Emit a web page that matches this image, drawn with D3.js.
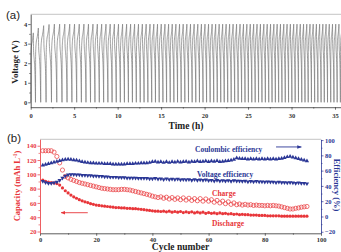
<!DOCTYPE html>
<html><head><meta charset="utf-8">
<script src="https://cdn.jsdelivr.net/npm/d3@7"></script>
<style>body{margin:0;background:#fff}svg{display:block}</style>
</head><body><svg id="chart"></svg>
<script>
// ---- panel (a): voltage profile ----
// length of every charge/discharge cycle in hours
var cycleHours = [
  0.55,0.60,0.62,0.62,0.61,0.60,0.58,0.56,0.55,0.54,
  0.53,0.52,0.51,0.50,0.50,0.49,0.48,0.48,0.47,0.47,
  0.46,0.46,0.45,0.45,0.44,0.44,0.44,0.43,0.43,0.43,
  0.42,0.42,0.42,0.42,0.42,0.42,0.42,0.42,0.42,0.42,
  0.41,0.41,0.41,0.41,0.41,0.40,0.40,0.40,0.40,0.40,
  0.40,0.40,0.39,0.39,0.39,0.39,0.39,0.39,0.39,0.39,
  0.38,0.38,0.38,0.38,0.38,0.38,0.38,0.38,0.38,0.38,
  0.37,0.37,0.37,0.37,0.37,0.37,0.37,0.37,0.37,0.37,
  0.37,0.37,0.37,0.37,0.37
];
var firstPeaks = [3.55, 3.8, 3.92, 3.98];   // later cycles reach the 4.0 V cut-off
var cutoffV = 4.0;
// one cycle: [fraction of cycle, voltage for a 4.0 V peak]
var cycleShape = [[0,0],[0.03,2.6],[0.12,3.15],[0.35,3.55],[0.5,3.85],[0.55,4.0],
                  [0.6,3.0],[0.75,2.4],[0.9,1.6],[0.97,0.6],[1,0]];
var timeTicks = [0,5,10,15,20,25,30,35];
var voltTicks = [0,1,2,3,4];

// ---- panel (b): cycling ----
var charge = [
  133,133,133,133,131,125,116,106,97,95,
  93,91.5,90,88.5,87.5,86.5,85.5,84.5,83.5,82.5,
  81.5,80.5,80,79.5,79,78.5,78.5,78.5,79,79,
  78.5,78,77,76,75,74,73,72,71,69.5,
  68.5,67.5,68.5,66.5,68,65.5,67.5,65,67,64.5,
  67,64,66.5,63.5,66,63,66,62.5,65.5,62.5,
  64.5,61,63.5,60,62.5,59,61.5,58,60,57.5,
  58.5,57,58,57,57.5,56.5,57,56.5,56.5,56,
  56.5,56,56.5,56,55.5,54.5,53.5,52.5,51.5,51.5,
  52.5,53,54,54.5,55
];
var discharge = [
  92,90,89,88.5,88,87,85,81,77,74,
  71,68.5,66.5,64.5,63,61.5,60.5,59,58,57,
  56.5,56,55.5,55,54.5,54,53.5,53.5,53,53,
  52.5,52.5,52,52,51.5,51,50.5,50,49.5,49,
  48.5,48.5,48,48.5,47.5,48.5,47,48,47,48,
  46.5,47.5,46.5,47.5,46,47,46,47,45.5,46.5,
  45.5,46,45,46,45,45.5,44.5,45,44,44.5,
  43.5,44,43.5,43.5,43,43,43,42.5,42.5,42.5,
  42,42,42,42,42,41.5,41.5,41.5,41.5,41.5,
  41.5,41.5,41.5,41.5,41.5
];
var coulombic = [
  67,68,69,70,71,72,73,74,74.5,75,
  74.5,74,73.5,72.5,71.5,71,70.5,70,70,69.5,
  69.5,69.5,69,69,69,68.5,68.5,68.5,68.5,68.5,
  69,69,69,69.5,69.5,70,70,70,70.5,71.5,
  72,71,71.5,70.5,71.5,70.5,71.5,71,72,71,
  71.5,72,71,72,71.5,72.5,71.5,72,72.5,71.5,
  72.5,72,73,71.5,72,72.5,73,73.5,74.5,76.5,
  76,75.5,75.5,75,75.5,75,75.5,75,75.5,75,
  75.5,75,75.5,75,75.5,76,77,78,78.5,77.5,
  76.5,75.5,74.5,73.5,72.5
];
var voltageEff = [
  46,44.5,43.5,43.5,44,45,47.5,50.5,53,54.5,
  55,55,54.5,54.5,54,54,53.5,53.5,53,53,
  52.5,52.5,52,52,51.5,51.5,51.5,51,51,51,
  50.5,50.5,50.5,50.5,50,50,50,50,49.5,49.5,
  50,49,49.5,48.5,49.5,48.5,49,48.5,49,48,
  48.5,48,48.5,47.5,48.5,47.5,48,47.5,48,47,
  47.5,46.5,47.5,46.5,47,46.5,47,46,47,46.5,
  46.5,46,46.5,45.5,46,45.5,46,45.5,45.5,45,
  45.5,45,45,44.5,45,44.5,44.5,44,44.5,44,
  43.5,44,43.5,43.5,43
];
var cycleTicks = [0,20,40,60,80,100];
var capTicks = [20,40,60,80,100,120,140];
var effTicks = [-20,0,20,40,60,80,100];

var W = 341, H = 252;
var serif = "'Liberation Serif','Times New Roman',serif";
var sans = "'Liberation Sans',Arial,sans-serif";
var red = "#e8363a", blue = "#2b3796", ink = "#333";
var intFmt = d3.format("d");

var svg = d3.select("#chart").attr("width", W).attr("height", H);

function styleAxis(g, color) {
  g.attr("font-family", serif).attr("font-size", 6.5).attr("font-weight", "bold");
  g.select(".domain").attr("stroke", color).attr("stroke-width", 0.8);
  g.selectAll(".tick line").attr("stroke", color).attr("stroke-width", 0.7);
  g.selectAll(".tick text").attr("fill", color);
}
function minor(g, axis, vals, color) {
  g.call(axis.tickValues(vals).tickFormat("").tickSize(1.5));
  g.select(".domain").remove();
  g.selectAll(".tick line").attr("stroke", color).attr("stroke-width", 0.6);
}

// ================= (a) =================
var xa = d3.scaleLinear().domain([0, 36]).range([30.7, 343.7]);
var ya = d3.scaleLinear().domain([-0.25, 4.5]).range([107.2, 14.3]);

svg.append("line").attr("x1", xa(0)).attr("x2", W).attr("y1", ya(4.5)).attr("y2", ya(4.5))
  .attr("stroke", "#aaa").attr("stroke-width", 0.7);

var trace = [], t0 = 0;
cycleHours.forEach(function(dur, i) {
  var peak = i < firstPeaks.length ? firstPeaks[i] : cutoffV;
  cycleShape.forEach(function(p, j) {
    if (i > 0 && j == 0) return;
    trace.push([t0 + p[0] * dur, p[1] * peak / cutoffV]);
  });
  t0 += dur;
});
svg.append("path").datum(trace)
  .attr("fill", "none").attr("stroke", "#7a7a7a").attr("stroke-width", 0.7)
  .attr("d", d3.line().x(function(d){ return xa(d[0]); }).y(function(d){ return ya(d[1]); })
    .curve(d3.curveMonotoneX));

var gax = svg.append("g").attr("transform", "translate(0," + ya(-0.25) + ")");
gax.call(d3.axisBottom(xa).tickValues(timeTicks).tickFormat(intFmt)
  .tickSize(2.5).tickPadding(3.5).tickSizeOuter(0));
styleAxis(gax, ink);
minor(svg.append("g").attr("transform", "translate(0," + ya(-0.25) + ")"),
  d3.axisBottom(xa), d3.range(2.5, 36, 5), ink);

var gay = svg.append("g").attr("transform", "translate(" + xa(0) + ",0)");
gay.call(d3.axisLeft(ya).tickValues(voltTicks).tickFormat(intFmt)
  .tickSize(2.5).tickPadding(1).tickSizeOuter(0));
styleAxis(gay, ink);
minor(svg.append("g").attr("transform", "translate(" + xa(0) + ",0)"),
  d3.axisLeft(ya), [0.5,1.5,2.5,3.5], ink);

svg.append("text").attr("x", 6).attr("y", 18.5).attr("font-family", sans).attr("font-size", 11.5)
  .attr("fill", "#222").text("(a)");
svg.append("text").attr("transform", "translate(17.5,62) rotate(-90)").attr("text-anchor", "middle")
  .attr("font-family", serif).attr("font-weight", "bold").attr("font-size", 9).attr("fill", "#222")
  .text("Voltage (V)");
svg.append("text").attr("x", 186).attr("y", 128.5).attr("text-anchor", "middle")
  .attr("font-family", serif).attr("font-weight", "bold").attr("font-size", 9.5).attr("fill", "#222")
  .text("Time (h)");

// ================= (b) =================
var xb = d3.scaleLinear().domain([0, 100]).range([40, 321]);
var yl = d3.scaleLinear().domain([17.5, 149]).range([233.3, 139.3]);
var yr = d3.scaleLinear().domain([-22, 101]).range([233.3, 139.3]);

svg.append("line").attr("x1", xb(0)).attr("x2", xb(100)).attr("y1", yl(149)).attr("y2", yl(149))
  .attr("stroke", "#aaa").attr("stroke-width", 0.7);

var cycles = d3.range(1, charge.length + 1);

var gp = svg.append("g");
gp.selectAll("circle.ch").data(cycles).join("circle").attr("class", "ch")
  .attr("cx", function(c){ return xb(c); }).attr("cy", function(c){ return yl(charge[c-1]); })
  .attr("r", 2.1).attr("fill", "none").attr("stroke", red).attr("stroke-width", 0.7);
gp.selectAll("circle.dc").data(cycles).join("circle").attr("class", "dc")
  .attr("cx", function(c){ return xb(c); }).attr("cy", function(c){ return yl(discharge[c-1]); })
  .attr("r", 1.6).attr("fill", red);

var tri = d3.symbol().type(d3.symbolTriangle).size(8);
gp.selectAll("path.ce").data(cycles).join("path").attr("class", "ce")
  .attr("transform", function(c){ return "translate(" + xb(c) + "," + yr(coulombic[c-1]) + ")"; })
  .attr("d", tri).attr("fill", blue);
gp.selectAll("path.ve").data(cycles).join("path").attr("class", "ve")
  .attr("transform", function(c){ return "translate(" + xb(c) + "," + yr(voltageEff[c-1]) + ") rotate(180)"; })
  .attr("d", tri).attr("fill", blue);

var gbx = svg.append("g").attr("transform", "translate(0," + yl(17.5) + ")");
gbx.call(d3.axisBottom(xb).tickValues(cycleTicks).tickFormat(intFmt)
  .tickSize(2.5).tickPadding(1.5).tickSizeOuter(0));
styleAxis(gbx, ink);
minor(svg.append("g").attr("transform", "translate(0," + yl(17.5) + ")"),
  d3.axisBottom(xb), [10,30,50,70,90], ink);

var gbl = svg.append("g").attr("transform", "translate(" + xb(0) + ",0)");
gbl.call(d3.axisLeft(yl).tickValues(capTicks).tickFormat(intFmt)
  .tickSize(2.5).tickPadding(1).tickSizeOuter(0));
styleAxis(gbl, red);
minor(svg.append("g").attr("transform", "translate(" + xb(0) + ",0)"),
  d3.axisLeft(yl), [30,50,70,90,110,130], red);

var gbr = svg.append("g").attr("transform", "translate(" + xb(100) + ",0)");
gbr.call(d3.axisRight(yr).tickValues(effTicks).tickFormat(intFmt)
  .tickSize(2.5).tickPadding(1.5).tickSizeOuter(0));
styleAxis(gbr, blue);
minor(svg.append("g").attr("transform", "translate(" + xb(100) + ",0)"),
  d3.axisRight(yr), [-10,10,30,50,70,90], blue);

// arrows
svg.append("defs").selectAll("marker").data([["hb", blue], ["hr", red]]).join("marker")
  .attr("id", function(d){ return d[0]; }).attr("viewBox", "0 0 10 10").attr("refX", 9).attr("refY", 5)
  .attr("markerWidth", 5).attr("markerHeight", 5).attr("orient", "auto")
  .append("path").attr("d", "M0,1L10,5L0,9z").attr("fill", function(d){ return d[1]; });
svg.append("line").attr("x1", xb(84)).attr("x2", xb(93)).attr("y1", yr(91)).attr("y2", yr(91))
  .attr("stroke", blue).attr("stroke-width", 0.9).attr("marker-end", "url(#hb)");
svg.append("line").attr("x1", xb(17)).attr("x2", xb(7.5)).attr("y1", yl(46.3)).attr("y2", yl(46.3))
  .attr("stroke", red).attr("stroke-width", 0.9).attr("marker-end", "url(#hr)");

function label(x, y, txt, color, size) {
  return svg.append("text").attr("x", x).attr("y", y).attr("font-family", serif)
    .attr("font-weight", "bold").attr("font-size", size).attr("fill", color).text(txt);
}
label(195, 152, "Coulombic efficiency", blue, 7.5);
label(197, 176.5, "Voltage efficiency", blue, 7.5);
label(212, 196, "Charge", red, 7.5);
label(212, 226, "Discharge", red, 7.5);

svg.append("text").attr("x", 7).attr("y", 141.5).attr("font-family", sans).attr("font-size", 11.5)
  .attr("fill", "#222").text("(b)");
var cap = svg.append("text").attr("transform", "translate(20,186) rotate(-90)").attr("text-anchor", "middle")
  .attr("font-family", serif).attr("font-weight", "bold").attr("font-size", 8.5).attr("fill", red);
cap.append("tspan").text("Capacity (mAh L");
cap.append("tspan").attr("dy", -3).attr("font-size", 5.5).text("-1");
cap.append("tspan").attr("dy", 3).text(")");
svg.append("text").attr("transform", "translate(333.5,185) rotate(90)").attr("text-anchor", "middle")
  .attr("font-family", serif).attr("font-weight", "bold").attr("font-size", 8.5).attr("fill", blue)
  .text("Efficiency (%)");
svg.append("text").attr("x", 180.5).attr("y", 250).attr("text-anchor", "middle")
  .attr("font-family", serif).attr("font-weight", "bold").attr("font-size", 9.5).attr("fill", "#222")
  .text("Cycle number");
</script>
</body></html>
